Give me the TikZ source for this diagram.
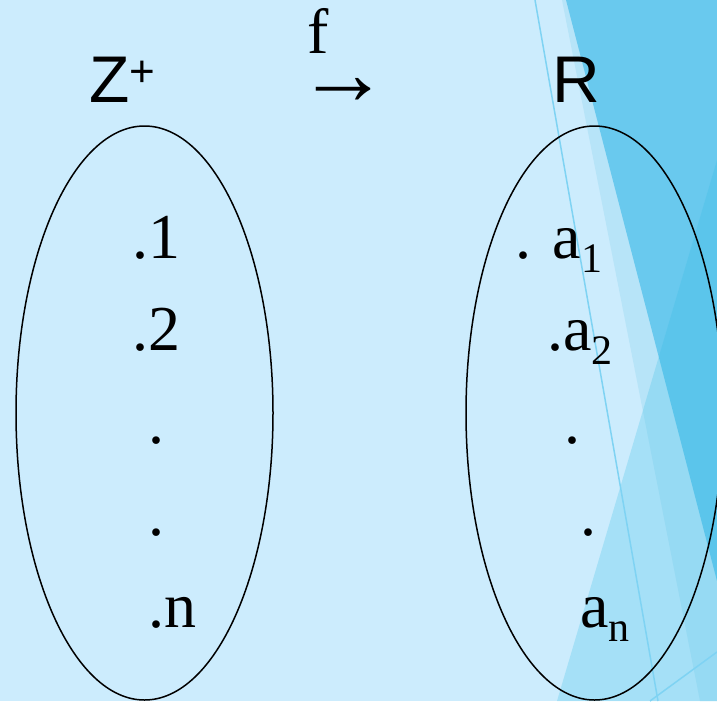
\documentclass[tikz,border=0pt]{standalone}
\usepackage{fontspec}
\setmainfont{Liberation Serif}
\newfontfamily\arialfont{Liberation Sans}
\usetikzlibrary{shapes.geometric}
\definecolor{bgblue}{HTML}{CCECFD}
\definecolor{darkblue}{HTML}{69C9EE}
\definecolor{bandblue}{HTML}{B7E4F8}
\definecolor{overblue}{HTML}{34BDE6}
\definecolor{thinblue}{HTML}{7FD3F3}
\newcommand\mysubx[1]{\raisebox{-14pt}{\fontsize{42}{42}\selectfont #1}}
\tikzset{
  lbl/.style={anchor=base west, inner sep=0pt, outer sep=0pt, font=\fontsize{64}{70}\selectfont},
  sanslbl/.style={anchor=base west, inner sep=0pt, outer sep=0pt, font=\arialfont\fontsize{66}{72}\selectfont},
  setbox/.style={ellipse, draw=black, line width=1.5pt, inner sep=0pt, minimum width=257pt, minimum height=574pt},
  thinline/.style={draw=thinblue, line width=1.5pt}
}
\begin{document}
\begin{tikzpicture}[x=1pt, y=-1pt]
\useasboundingbox (0,0) rectangle (717,701);
\clip (0,0) rectangle (717,701);
% background
\fill[bgblue] (0,0) rectangle (717,701);
\fill[bandblue] (562,0) -- (717,0) -- (717,701) -- (700,701) -- cycle;
\fill[darkblue] (566,0) -- (717,0) -- (717,581) -- cycle;
\fill[overblue, fill opacity=0.25] (717,160) -- (557,701) -- (717,701) -- cycle;
\draw[thinline] (535,0) -- (658,701);
\draw[thinline] (650,701) -- (717,652);
% sets
\node[setbox] (Zset) at (144.5,413) {};
\node[setbox] (Rset) at (594.5,413) {};
% titles
\node[sanslbl] (Zt) at (89.5,102) {Z\raisebox{16pt}{\fontsize{44}{44}\selectfont +}};
\node[sanslbl] (Rt) at (552,102) {R};
\node[lbl] (f) at (307,53) {\smash{f}};
\node[lbl, font=\fontsize{92}{92}\selectfont] (arr) at (297,104) {\smash{→}};
% left elements
\node[lbl] (l1) at (132.5,258) {.1};
\node[lbl] (l2) at (132.5,350) {.2};
\node[lbl] (l3) at (148.5,443) {.};
\node[lbl] (l4) at (148.5,535) {.};
\node[lbl] (l5) at (148.5,627) {.n};
% right elements
\node[lbl] (r1) at (515.5,258) {. a\mysubx{1}};
\node[lbl] (r2) at (547.5,350) {.a\mysubx{2}};
\node[lbl] (r3) at (564.5,443) {.};
\node[lbl] (r4) at (580.5,535) {.};
\node[lbl] (r5) at (580,627) {a\mysubx{n}};
\end{tikzpicture}
\end{document}
